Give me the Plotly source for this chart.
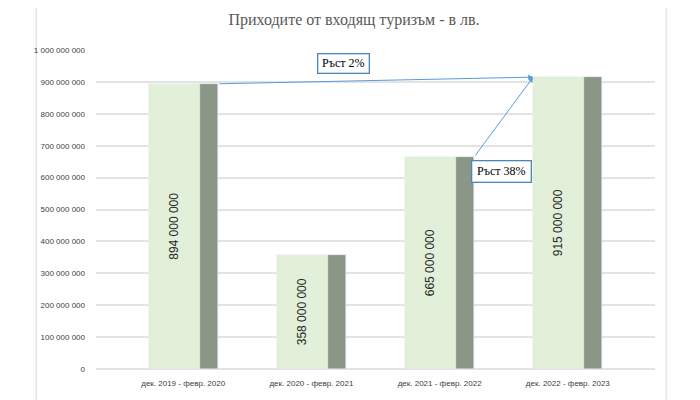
import plotly.graph_objects as go

# data
periods = ['дек. 2019 - февр. 2020', 'дек. 2020 - февр. 2021',
           'дек. 2021 - февр. 2022', 'дек. 2022 - февр. 2023']
revenue = [894000000, 358000000, 665000000, 915000000]
revenue_labels = ['894 000 000', '358 000 000', '665 000 000', '915 000 000']
growth_labels = ['Ръст 2%', 'Ръст 38%']

x_pos = list(range(len(periods)))

fig = go.Figure()

# light bar with the value label
fig.add_trace(go.Bar(x=x_pos, y=revenue, text=revenue_labels,
                     textposition='inside', insidetextanchor='middle', textangle=-90,
                     textfont=dict(family='Liberation Sans, Arial', size=12, color='#262626'),
                     marker_color='#E2F0D9', width=0.40, offset=-0.27,
                     showlegend=False, hoverinfo='skip'))

# dark bar next to it
fig.add_trace(go.Bar(x=x_pos, y=revenue, marker_color='#8A9686',
                     width=0.14, offset=0.13, showlegend=False))

# growth arrows (from top right of the dark bar to top left of the last bar)
tip_x = x_pos[3] - 0.27
arrow_col = '#5B9BD5'
for i in [0, 2]:
    fig.add_annotation(x=tip_x, y=revenue[3], ax=x_pos[i] + 0.27, ay=revenue[i],
                       xref='x', yref='y', axref='x', ayref='y', text='',
                       showarrow=True, arrowhead=2, arrowsize=1, arrowwidth=1,
                       arrowcolor=arrow_col)

box = dict(font=dict(family='Liberation Serif, Times New Roman', size=12, color='#000000'),
           bgcolor='white', bordercolor='#4A86B8', borderwidth=1.3, borderpad=3,
           showarrow=False, xref='x', yref='y')
fig.add_annotation(x=1.253, y=957000000, text=growth_labels[0], width=44, height=12, **box)
fig.add_annotation(x=2.484, y=620000000, text=growth_labels[1], width=52, height=14, **box)

# outer chart frame (bottom edge falls outside the window)
fig.add_shape(type='rect', xref='paper', yref='paper', x0=-0.107, x1=1.02, y0=-0.2, y1=1.2,
              line=dict(color='#D9D9D9', width=1), fillcolor='rgba(0,0,0,0)', layer='below')

# page has a body margin, so the figure is a bit smaller than the window
fig.update_layout(
    width=692, height=392,
    title=dict(text='Приходите от входящ туризъм - в лв.', x=0.5, xanchor='center',
               y=0.972, yanchor='middle',
               font=dict(family='Liberation Serif, Times New Roman', size=16, color='#595959')),
    margin=dict(l=88, r=45, t=42, b=28),
    plot_bgcolor='white', paper_bgcolor='white',
    separators=', ',
    bargap=0, barmode='overlay',
)
fig.update_xaxes(tickvals=x_pos, ticktext=periods, range=[-0.68, 3.68],
                 showgrid=False, zeroline=False, showline=False, ticks='',
                 ticklabelstandoff=8,
                 tickfont=dict(family='Liberation Sans Narrow, Liberation Sans', size=8, color='#404040'))
fig.update_yaxes(range=[0, 1000000000], dtick=100000000, tickformat=',d',
                 showgrid=True, gridcolor='#E3E3E3', gridwidth=1.5, zeroline=True,
                 zerolinecolor='#E3E3E3', zerolinewidth=1.5, showline=False, ticks='',
                 ticklabelstandoff=10,
                 tickfont=dict(family='Liberation Sans Narrow, Liberation Sans', size=8, color='#404040'))

fig.write_html('out.html')
